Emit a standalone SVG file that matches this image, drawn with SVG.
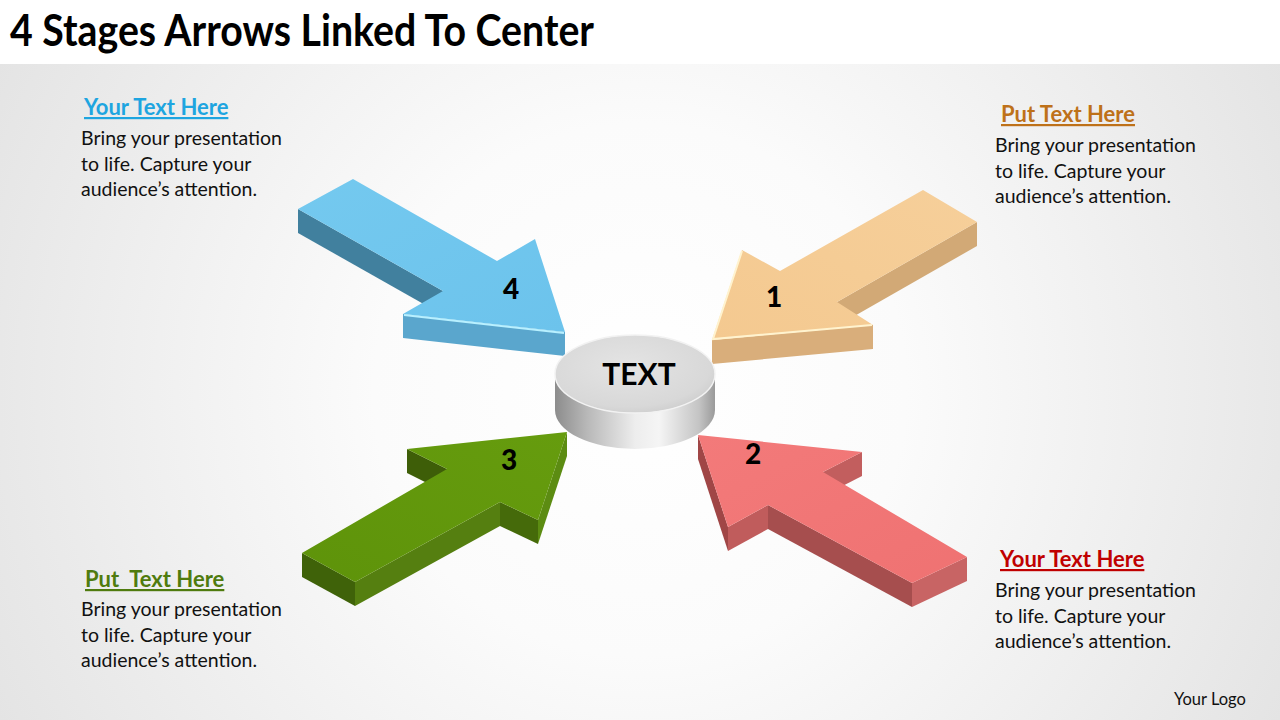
<svg xmlns="http://www.w3.org/2000/svg" width="1280" height="720" viewBox="0 0 1280 720">
<defs>
<radialGradient id="bg" cx="640" cy="390" r="760" gradientUnits="userSpaceOnUse">
<stop offset="0" stop-color="#FFFFFF"/>
<stop offset="0.35" stop-color="#FBFBFB"/>
<stop offset="1" stop-color="#E2E2E2"/>
</radialGradient>
<radialGradient id="diskTop" cx="0.45" cy="0.4" r="0.65">
<stop offset="0" stop-color="#E4E4E4"/>
<stop offset="0.8" stop-color="#D8D8D8"/>
<stop offset="1" stop-color="#CCCCCC"/>
</radialGradient>
<linearGradient id="diskSide" x1="555" y1="0" x2="715" y2="0" gradientUnits="userSpaceOnUse">
<stop offset="0" stop-color="#8C8C8C"/>
<stop offset="0.2" stop-color="#B8B8B8"/>
<stop offset="0.5" stop-color="#EDEDED"/>
<stop offset="0.65" stop-color="#F5F5F5"/>
<stop offset="0.9" stop-color="#C4C4C4"/>
<stop offset="1" stop-color="#9A9A9A"/>
</linearGradient>
<linearGradient id="blueTop" x1="0" y1="0" x2="1" y2="1">
<stop offset="0" stop-color="#74C9EF"/>
<stop offset="1" stop-color="#6CC3EC"/>
</linearGradient>
<linearGradient id="orangeTop" x1="1" y1="0" x2="0" y2="1">
<stop offset="0" stop-color="#F6CF9A"/>
<stop offset="1" stop-color="#F4C990"/>
</linearGradient>
<linearGradient id="greenTop" x1="0" y1="1" x2="1" y2="0">
<stop offset="0" stop-color="#5E930A"/>
<stop offset="1" stop-color="#669C0E"/>
</linearGradient>
<linearGradient id="redTop" x1="0" y1="0" x2="1" y2="1">
<stop offset="0" stop-color="#F37A7A"/>
<stop offset="1" stop-color="#EF7272"/>
</linearGradient>
</defs>
<style>
.title{font-family:Lato,"Open Sans","Liberation Sans",sans-serif;font-weight:700;font-size:43px;fill:#000}
.head{font-family:Lato,"Open Sans","Liberation Sans",sans-serif;font-weight:700;font-size:22px;text-decoration:underline;white-space:pre}
.body{font-family:Lato,"Open Sans","Liberation Sans",sans-serif;font-size:19.5px;fill:#111}
.num{font-family:Lato,"Open Sans","Liberation Sans",sans-serif;font-weight:900;font-size:28px;fill:#000;text-anchor:middle}
.center{font-family:Lato,"Open Sans","Liberation Sans",sans-serif;font-weight:700;font-size:30px;fill:#000;text-anchor:middle}
.logo{font-family:Lato,"Open Sans","Liberation Sans",sans-serif;font-size:16.5px;fill:#111}
</style>

<rect x="0" y="0" width="1280" height="720" fill="url(#bg)"/>
<rect x="0" y="0" width="1280" height="64" fill="#FFFFFF"/>
<text class="title" x="10" y="46" textLength="584" lengthAdjust="spacingAndGlyphs">4 Stages Arrows Linked To Center</text>

<g id="arrow4">
<polygon points="298,209 443,291 443,315 298,233" fill="#41809E"/>
<polygon points="403,314 565,332 565,356 403,338" fill="#5AA6CD"/>
<polygon points="353,179 497,261 535,239 565,332 403,314 443,291 298,209" fill="url(#blueTop)"/>
<line x1="404" y1="315" x2="564" y2="333" stroke="#B8F0FF" stroke-width="2"/>
<text class="num" x="511" y="299">4</text>
</g>

<g id="arrow1">
<polygon points="977,222 837,302 837,326 977,246" fill="#D2A976"/>
<polygon points="873,325 712,340 712,364 873,349" fill="#D9AE7B"/>
<polygon points="923,190 977,222 837,302 873,325 712,340 742,250 780,271" fill="url(#orangeTop)"/>
<polyline points="742,251 713,339 872,325" fill="none" stroke="#FFF3CF" stroke-width="2"/>
<text class="num" x="774" y="307">1</text>
</g>

<g id="arrow3">
<polygon points="407,449 447,469 447,493 407,473" fill="#3E5E08"/>
<polygon points="302,553 355,582 355,606 302,577" fill="#3F6209"/>
<polygon points="355,582 500,502 500,526 355,606" fill="#557F10"/>
<polygon points="500,502 538,520 538,544 500,526" fill="#456A0A"/>
<polygon points="538,520 567,432 567,456 538,544" fill="#5C8C12"/>
<polygon points="302,553 447,469 407,449 567,432 538,520 500,502 355,582" fill="url(#greenTop)"/>
<text class="num" x="509" y="470">3</text>
</g>

<g id="arrow2">
<polygon points="862,452 823,472 823,496 862,476" fill="#C25E5E"/>
<polygon points="967,557 912,583 912,607 967,581" fill="#C86464"/>
<polygon points="912,583 768,505 768,529 912,607" fill="#A64E4E"/>
<polygon points="768,505 728,527 728,551 768,529" fill="#C05C5C"/>
<polygon points="728,527 698,435 698,459 728,551" fill="#A04646"/>
<polygon points="698,435 862,452 823,472 967,557 912,583 768,505 728,527" fill="url(#redTop)"/>
<text class="num" x="753" y="464">2</text>
</g>

<g id="center">
<path d="M555,374 A80,39 0 0 0 715,374 L715,410 A80,39 0 0 1 555,410 Z" fill="url(#diskSide)"/>
<ellipse cx="635" cy="374" rx="80" ry="39" fill="url(#diskTop)" stroke="#F2F2F2" stroke-width="1.5"/>
<text class="center" x="639" y="385">TEXT</text>
</g>

<g id="text-top-left">
<text class="head" x="84" y="115" fill="#1EA5E0">Your Text Here</text>
<text class="body" x="81" y="145">Bring your presentation</text>
<text class="body" x="81" y="171">to life. Capture your</text>
<text class="body" x="81" y="196">audience’s attention.</text>
</g>

<g id="text-top-right">
<text class="head" x="1001" y="122" fill="#BE7119">Put Text Here</text>
<text class="body" x="995" y="152">Bring your presentation</text>
<text class="body" x="995" y="178">to life. Capture your</text>
<text class="body" x="995" y="203">audience’s attention.</text>
</g>

<g id="text-bottom-left">
<text class="head" x="85" y="587" fill="#4F7B0E">Put  Text Here</text>
<text class="body" x="81" y="616">Bring your presentation</text>
<text class="body" x="81" y="642">to life. Capture your</text>
<text class="body" x="81" y="667">audience’s attention.</text>
</g>

<g id="text-bottom-right">
<text class="head" x="1000" y="567" fill="#C00000">Your Text Here</text>
<text class="body" x="995" y="597">Bring your presentation</text>
<text class="body" x="995" y="623">to life. Capture your</text>
<text class="body" x="995" y="648">audience’s attention.</text>
</g>

<g id="logo">
<text class="logo" x="1174" y="705">Your Logo</text>
</g>
</svg>
